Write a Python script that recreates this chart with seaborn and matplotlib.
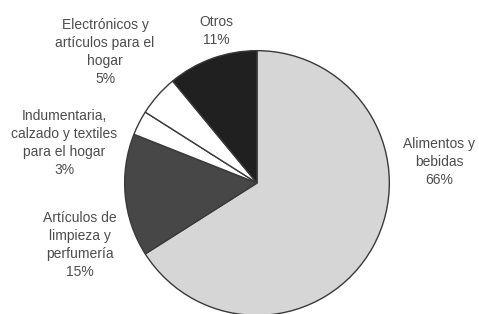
import matplotlib
matplotlib.use("Agg")
import matplotlib.pyplot as plt
import seaborn as sns

categories = ["Alimentos y\nbebidas", "Artículos de\nlimpieza y\nperfumería",
              "Indumentaria,\ncalzado y textiles\npara el hogar",
              "Electrónicos y\nartículos para el\nhogar", "Otros"]
values = [66, 15, 3, 5, 11]
pct_labels = ["66%", "15%", "3%", "5%", "11%"]

colors = ["#d6d6d6", "#474747", "#ffffff", "#ffffff", "#202020"]
# label centre positions in figure pixels (x, y from top)
label_pos = [(439, 162), (80, 245), (64, 143), (105, 52), (216, 31)]

sns.set_style("white")
plt.rcParams['font.family'] = ['Liberation Sans', 'DejaVu Sans']

W, H = 479, 314
fig = plt.figure(figsize=(W / 100, H / 100), dpi=100)
cx, cy, r = 257, 183, 133
ax = fig.add_axes([(cx - r) / W, (H - cy - r) / H, 2 * r / W, 2 * r / H])
ax.pie(values, colors=colors, startangle=90, counterclock=False,
       wedgeprops=dict(edgecolor="#3a3a3a", linewidth=1.0))
ax.set_xlim(-1.005, 1.005)
ax.set_ylim(-1.005, 1.005)
ax.axis("off")

for cat, pct, (px, py) in zip(categories, pct_labels, label_pos):
    fig.text(px / W, 1 - py / H, cat + "\n" + pct, ha="center", va="center",
             fontsize=10, color="#4d4d4d", linespacing=1.38)

fig.savefig("out.png", dpi=100, facecolor="white")
